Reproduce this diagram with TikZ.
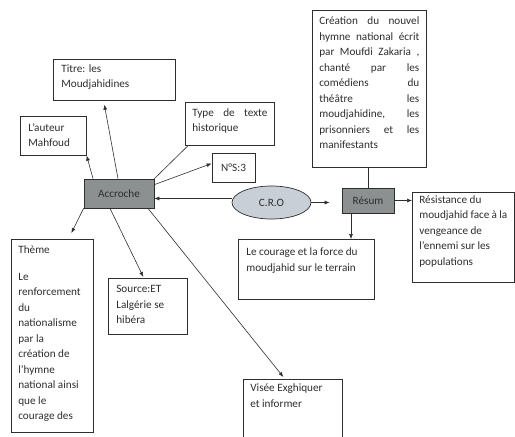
\documentclass[tikz,border=0pt]{standalone}
\usepackage{fontspec}
\setmainfont{Carlito}
\usetikzlibrary{arrows.meta,shapes.geometric}
\definecolor{ink}{HTML}{2E2E2E}
\definecolor{boxgray}{HTML}{8C9090}
\definecolor{ellfill}{HTML}{C8CFD6}
\newcommand{\bx}[4]{\parbox[c][#2][t]{#1}{\raggedright\vspace*{#3}#4\par}}
\begin{document}
\begin{tikzpicture}[x=1pt,y=-1pt,
  every node/.style={text=ink,font=\fontsize{11.2}{15.5}\selectfont},
  tbox/.style={draw=ink,line width=0.7pt,inner xsep=8pt,inner ysep=0pt,anchor=north west,fill=white},
  darkbox/.style={draw=ink,line width=0.7pt,fill=boxgray,inner sep=0pt},
  conn/.style={draw=ink,line width=0.6pt},
  arr/.style={conn,-{Latex[length=5pt,width=4pt]}}]
\useasboundingbox (0,0) rectangle (515,437);
\clip (0,0) rectangle (515,437);

% boxes
\node[tbox] (titre) at (53,59) {\bx{106pt}{41pt}{5pt}{Titre: les\\Moudjahidines}};
\node[tbox] (auteur) at (20,116) {\bx{50pt}{39pt}{7pt}{L'auteur\\Mahfoud}};
\node[tbox,inner xsep=7pt] (type) at (185,102) {\bx{75pt}{43pt}{6pt}{Type\hfill de\hfill texte\\historique}};
\node[draw=ink,line width=0.7pt,minimum width=43pt,minimum height=29pt,inner sep=0pt] (ns) at (233.5,167.5) {N°S:3};
\node[darkbox,minimum width=70pt,minimum height=29pt] (accroche) at (119,193.5) {Accroche};
\node[ellipse,draw=ink,line width=0.7pt,fill=ellfill,minimum width=79pt,minimum height=33pt,inner sep=0pt] (cro) at (271.5,202.5) {C.R.O};
\node[darkbox,minimum width=52pt,minimum height=25pt] (resum) at (368,200.5) {Résum};
\node[tbox,inner xsep=7pt] (creation) at (312,10) {\bx{100pt}{157pt}{6.5pt}{Création\hfill du\hfill nouvel\\hymne\hfill national\hfill écrit\\par\hfill Moufdi\hfill Zakaria\hfill ,\\chanté\hfill par\hfill les\\comédiens\hfill du\\théâtre\hfill les\\moudjahidine,\hfill les\\prisonniers\hfill et\hfill les\\manifestants}};
\node[tbox,inner xsep=7pt] (resistance) at (412,192) {\bx{88pt}{90pt}{3pt}{Résistance du\\moudjahid face à la\\vengeance de\\l'ennemi sur les\\populations}};
\node[tbox] (courage) at (238,239) {\bx{120pt}{60pt}{8.8pt}{Le courage et la force du\\moudjahid sur le terrain}};
\node[tbox,inner xsep=7pt] (visee) at (243,379) {\bx{85pt}{70pt}{4.5pt}{Visée Exghiquer\\et informer}};
\node[tbox,inner xsep=7pt] (theme) at (11,239) {\bx{68pt}{193pt}{6pt}{Thème\\[11.5pt]Le\\renforcement\\du\\nationalisme\\par la\\création de\\l'hymne\\national ainsi\\que le\\courage des}};
\node[tbox] (source) at (108,278) {\bx{63pt}{56pt}{7pt}{Source:ET\\Lalgérie se\\hibéra}};

% helper coordinates
\coordinate (rsb) at ([xshift=-17pt]resum.south);

% connectors
\draw[arr] ([xshift=-1pt]accroche.north) -- ([xshift=-10pt,yshift=-4pt]titre.south);
\draw[arr] ([xshift=-26pt]accroche.north) -- (auteur.south east);
\draw[conn] (accroche.north east) -- ([xshift=3pt]type.south west);
\draw[arr] ([yshift=-6pt]accroche.north east) -- ([yshift=4pt]ns.west);
\draw[arr] ([yshift=4pt]cro.west) -- ([yshift=-5pt]accroche.east);
\draw[arr,shorten >=12pt] (cro.east) -- (cro.east -| resum.west);
\draw[conn] (resum.north) -- (resum.north |- creation.south);
\draw[arr] (resum.east) -- (resum.east -| resistance.west);
\draw[arr] (rsb) -- (rsb |- courage.north);
\draw[arr] (accroche.south west) -- ([xshift=19pt,yshift=6pt]theme.north);
\draw[arr] ([xshift=-9pt]accroche.south) -- ([xshift=-4.5pt,yshift=1pt]source.north);
\draw[arr] ([xshift=29pt]accroche.south) -- ([xshift=-9.5pt,yshift=2pt]visee.north);
\end{tikzpicture}
\end{document}
